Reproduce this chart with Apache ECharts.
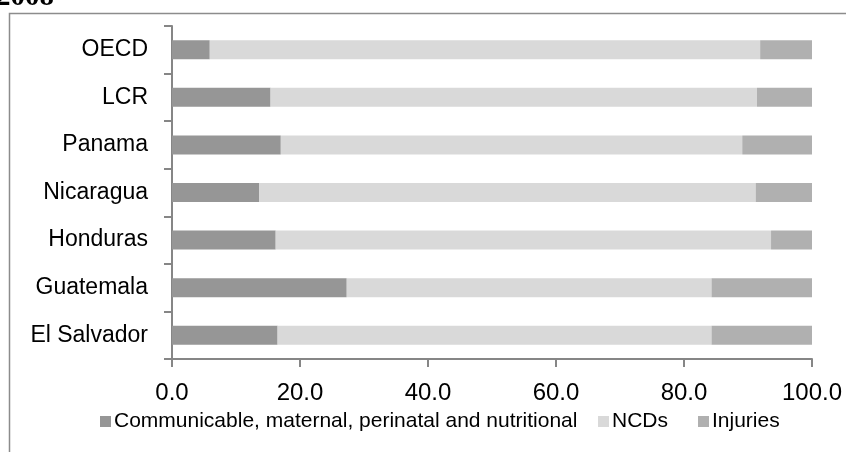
<!DOCTYPE html>
<html>
<head>
<meta charset="utf-8">
<title>Deaths by cause, 2008</title>
<script src="https://cdn.jsdelivr.net/npm/echarts@6/dist/echarts.min.js"></script>
<style>
  html, body { margin: 0; padding: 0; background: #fff; }
  #chart { width: 846px; height: 452px; }
</style>
</head>
<body>
<div id="chart"></div>
<script>
// categories, bottom to top as the axis draws them
const countries = ['El Salvador', 'Guatemala', 'Honduras', 'Nicaragua', 'Panama', 'LCR', 'OECD']
const seriesNames = ['Communicable, maternal, perinatal and nutritional', 'NCDs', 'Injuries']
// shares (%)
const communicable = [16.5, 27.3, 16.2, 13.6, 17.0, 15.4, 5.9]
const ncds = [67.8, 57.0, 77.4, 77.6, 72.1, 76.0, 86.0]
const injuries = [15.7, 15.7, 6.4, 8.8, 10.9, 8.6, 8.1]
const colors = ['#969696', '#d9d9d9', '#b0b0b0']

const chart = echarts.init(document.getElementById('chart'))
const font = 'Liberation Sans, Arial, sans-serif'
const axisGray = '#868686'

function legendAt(name, left) {
  return {
    data: [name],
    left: left,
    top: 411,
    padding: 0,
    icon: 'rect',
    itemWidth: 11,
    itemHeight: 11,
    textStyle: { fontFamily: font, fontSize: 21, color: '#000', padding: [0, 0, 0, -2] },
    selectedMode: false,
  }
}

const values = [communicable, ncds, injuries]

chart.setOption({
  animation: false,
  grid: { left: 172, right: 34, top: 26, bottom: 93 },
  legend: [
    legendAt(seriesNames[0], 100),
    legendAt(seriesNames[1], 598),
    legendAt(seriesNames[2], 698),
  ],
  xAxis: {
    type: 'value',
    min: 0,
    max: 100,
    interval: 20,
    splitLine: { show: false },
    axisLine: { show: true, lineStyle: { color: axisGray, width: 2 } },
    axisTick: { show: true, length: 8, lineStyle: { color: axisGray, width: 2 } },
    axisLabel: {
      margin: 22,
      fontFamily: font,
      fontSize: 24,
      color: '#000',
      formatter: (v) => v.toFixed(1),
    },
  },
  yAxis: {
    type: 'category',
    data: countries,
    axisLine: { show: true, lineStyle: { color: axisGray, width: 2 } },
    axisTick: { show: true, length: 8, lineStyle: { color: axisGray, width: 2 } },
    axisLabel: { margin: 24, fontFamily: font, fontSize: 23, color: '#000' },
  },
  series: values.map((arr, i) => ({
    name: seriesNames[i],
    type: 'bar',
    stack: 'total',
    barWidth: 19,
    itemStyle: { color: colors[i] },
    data: arr,
  })),
  graphic: [
    {
      type: 'rect',
      shape: { x: 9.5, y: 13.5, width: 900, height: 500 },
      style: { fill: 'none', stroke: '#8c8c8c', lineWidth: 1.5 },
      silent: true,
    },
    {
      type: 'text',
      left: -4,
      top: -17,
      style: {
        text: '2008',
        font: 'bold 29px "Liberation Serif", serif',
        fill: '#000',
      },
      silent: true,
    },
  ],
})
</script>
</body>
</html>
